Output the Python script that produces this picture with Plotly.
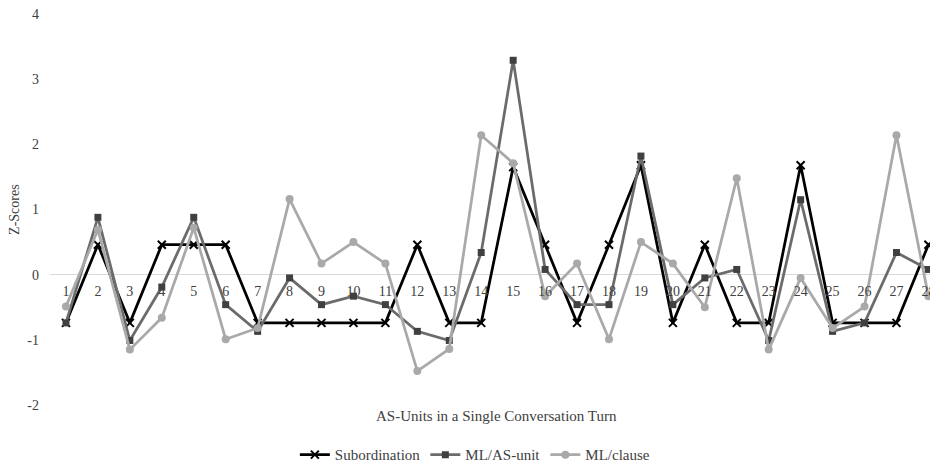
import plotly.graph_objects as go

categories = list(range(1, 29))
tick_labels = [str(c) for c in categories]
y_tickvals = [-2, -1, 0, 1, 2, 3, 4]
y_ticktext = ["-2", "-1", "0", "1", "2", "3", "4"]

subordination = [-0.74, 0.46, -0.74, 0.46, 0.46, 0.46, -0.74, -0.74, -0.74, -0.74,
                 -0.74, 0.46, -0.74, -0.74, 1.65, 0.46, -0.74, 0.46, 1.68, -0.74,
                 0.46, -0.74, -0.74, 1.68, -0.74, -0.74, -0.74, 0.46]
ml_as_unit = [-0.74, 0.88, -1.01, -0.19, 0.88, -0.46, -0.87, -0.05, -0.46, -0.33,
              -0.46, -0.87, -1.01, 0.34, 3.29, 0.08, -0.46, -0.46, 1.82, -0.46,
              -0.05, 0.08, -1.01, 1.15, -0.87, -0.74, 0.34, 0.08]
ml_clause = [-0.49, 0.69, -1.15, -0.66, 0.72, -0.99, -0.82, 1.16, 0.17, 0.50,
             0.17, -1.48, -1.14, 2.14, 1.71, -0.33, 0.17, -0.99, 0.50, 0.17,
             -0.50, 1.48, -1.15, -0.05, -0.82, -0.49, 2.14, -0.33]

FONT = "Liberation Serif"
TXT = "#404040"

fig = go.Figure()
fig.add_trace(go.Scatter(
    x=categories, y=subordination, name="Subordination", mode="lines+markers",
    line=dict(color="#000000", width=2.75),
    marker=dict(symbol="x-thin", size=8, line=dict(color="#000000", width=2), color="#000000"),
))
fig.add_trace(go.Scatter(
    x=categories, y=ml_as_unit, name="ML/AS-unit", mode="lines+markers",
    line=dict(color="#6b6b6b", width=2.75),
    marker=dict(symbol="square", size=7, color="#404040"),
))
fig.add_trace(go.Scatter(
    x=categories, y=ml_clause, name="ML/clause", mode="lines+markers",
    line=dict(color="#a9a9a9", width=2.75),
    marker=dict(symbol="circle", size=8, color="#a9a9a9"),
))

fig.update_layout(
    width=930, height=456,
    margin=dict(l=42, r=0, t=6, b=59, autoexpand=False),
    paper_bgcolor="white", plot_bgcolor="white",
    font=dict(family=FONT, size=14, color=TXT),
    showlegend=True,
    legend=dict(orientation="h", xref="container", x=0.502, xanchor="center",
                yref="container", y=0.02, yanchor="middle",
                font=dict(family=FONT, size=15, color=TXT),
                itemwidth=30, tracegroupgap=0),
    xaxis=dict(
        range=[0.5, 28.3], tickmode="array", tickvals=categories, ticktext=tick_labels,
        showgrid=False, zeroline=False, showline=False, ticks="",
        anchor="free", position=1/3, ticklabelstandoff=6, automargin=False,
        ticklabeloverflow="allow",
        tickfont=dict(family=FONT, size=14, color=TXT),
    ),
    yaxis=dict(
        range=[-2, 4], tickmode="array", tickvals=y_tickvals, ticktext=y_ticktext,
        showgrid=False, zeroline=True, zerolinecolor="#d9d9d9",
        zerolinewidth=1, showline=False, ticks="", automargin=False,
        ticklabeloverflow="allow",
        tickfont=dict(family=FONT, size=14, color=TXT), ticklabelstandoff=10,
    ),
    annotations=[
        dict(text="AS-Units in a Single Conversation Turn", xref="paper", yref="paper",
             x=0.503, y=-0.028, xanchor="center", yanchor="middle", showarrow=False,
             font=dict(family=FONT, size=15, color=TXT)),
        dict(text="Z-Scores", xref="paper", yref="paper", x=-0.0394, y=0.499,
             xanchor="center", yanchor="middle", textangle=-90, showarrow=False,
             font=dict(family=FONT, size=14, color=TXT)),
    ],
)

fig.write_html("out.html")
